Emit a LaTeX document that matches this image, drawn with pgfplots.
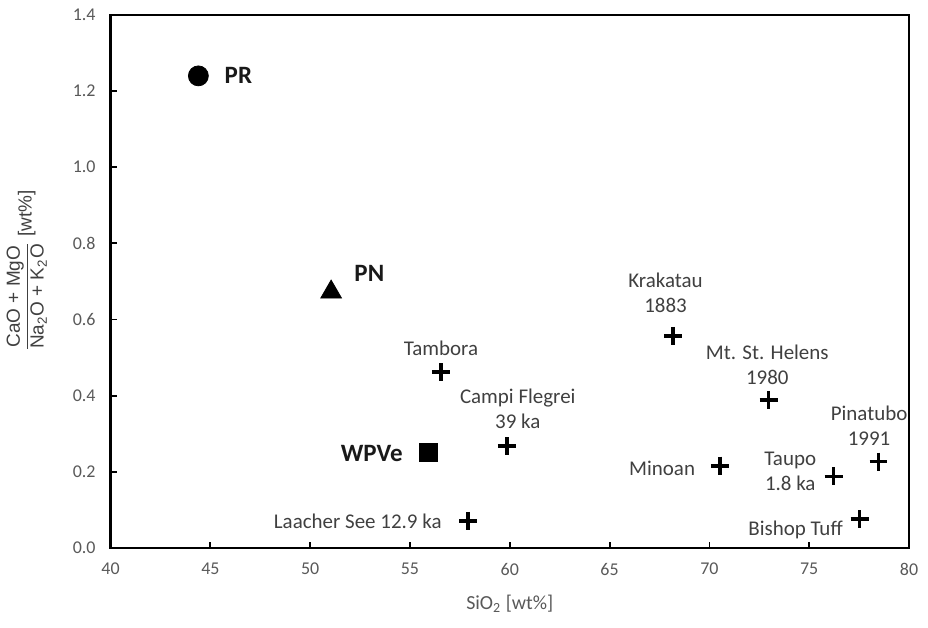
\documentclass[border=0pt]{standalone}
\usepackage{amsmath}
\usepackage{fontspec}
\setmainfont{Carlito}
\newfontfamily\arial{Liberation Sans}
\usepackage{pgfplots}
\pgfplotsset{compat=1.18}
\definecolor{ticktext}{HTML}{595959}
\definecolor{annot}{HTML}{404040}

\begin{document}
\begin{tikzpicture}
\begin{axis}[
    scale only axis,
    width=400pt, height=267pt,
    xmin=40, xmax=80, ymin=0, ymax=1.4,
    xtick distance=5, ytick distance=0.2,
    tick pos=left, tick align=inside,
    major tick length=3pt,
    tick style={black, line width=0.9pt},
    axis line style={black, line width=1.3pt},
    clip=false,
    /pgf/number format/assume math mode=true,
    ticklabel style={font=\fontsize{9}{10.5}\selectfont, text=ticktext},
    yticklabel style={/pgf/number format/fixed, /pgf/number format/fixed zerofill,
      /pgf/number format/precision=1, xshift=-4pt},
    xticklabel style={yshift=-4pt},
    xlabel={SiO\textsubscript{2} [wt\%]},
    xlabel style={at={(axis description cs:0.5,-0.105)}, anchor=center,
      font=\fontsize{10}{12}\selectfont, text=ticktext},
    ylabel={\arial$\dfrac{\mbox{CaO + MgO}}{\mbox{Na\textsubscript{2}O + K\textsubscript{2}O}}$ [wt\%]},
    ylabel style={at={(axis description cs:-0.105,0.52)}, anchor=center,
      font=\fontsize{9.5}{11}\selectfont, text=annot},
]
% PR
\addplot[only marks, mark=*, mark size=5pt, black] coordinates {(44.4,1.24)};
% PN
\addplot[only marks, mark=triangle*, mark size=6pt, black] coordinates {(51.05,0.672)};
% WPVe
\addplot[only marks, mark=square*, mark size=4.5pt, black] coordinates {(55.9,0.252)};
% other eruptions
\addplot[only marks, mark=+, mark size=4.5pt, black, line width=1.8pt] coordinates {
    (56.55,0.462)  % Tambora
    (59.85,0.267)  % Campi Flegrei
    (57.92,0.071)  % Laacher See
    (68.18,0.557)  % Krakatau
    (72.97,0.389)  % Mt. St. Helens
    (70.52,0.216)  % Minoan
    (76.22,0.188)  % Taupo
    (78.47,0.227)  % Pinatubo
    (77.52,0.076)  % Bishop Tuff
};

\coordinate (sw) at (rel axis cs:0,0);
\coordinate (ne) at (rel axis cs:1,1);

\begin{scope}[every node/.style={inner sep=0pt, font=\fontsize{12.5}{14}\selectfont\bfseries, text=black!90}]
\node[anchor=west] at (axis cs:45.7,1.24) {PR};
\node[anchor=west] at (axis cs:52.2,0.72) {PN};
\node[anchor=east] at (axis cs:54.65,0.248) {WPVe};
\end{scope}

\begin{scope}[every node/.style={inner sep=0pt, align=center, font=\fontsize{10.5}{12.5}\selectfont, text=annot}]
\node at (axis cs:56.55,0.524) {Tambora};
\node at (axis cs:60.4,0.366) {Campi Flegrei\\39 ka};
\node[anchor=east] at (axis cs:56.6,0.069) {Laacher See 12.9 ka};
\node at (axis cs:67.8,0.67) {Krakatau\\1883};
\node at (axis cs:72.9,0.48) {Mt. St. Helens\\1980};
\node[anchor=east] at (axis cs:69.3,0.21) {Minoan};
\node at (axis cs:74.05,0.2) {Taupo\\1.8 ka};
\node at (axis cs:78.0,0.322) {Pinatubo\\1991};
\node[anchor=base east] at (axis cs:76.7,0.032) {Bishop Tuff};
\end{scope}
\end{axis}
\path ([shift={(-54.5pt,-40pt)}]sw) rectangle ([shift={(9.5pt,7.5pt)}]ne);
\end{tikzpicture}
\end{document}
